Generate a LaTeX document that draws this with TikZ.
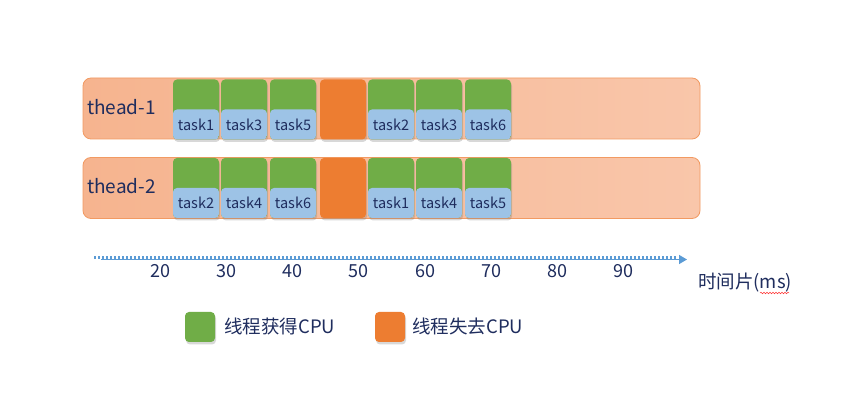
\documentclass[tikz,border=0pt]{standalone}
\usepackage{fontspec}
\setmainfont{Noto Sans CJK SC}
\usetikzlibrary{shadows,arrows.meta,decorations.pathmorphing}
\definecolor{peachL}{HTML}{F6B48F}
\definecolor{peachR}{HTML}{F9C6AA}
\definecolor{barline}{HTML}{F29A62}
\definecolor{tgreen}{HTML}{70AD47}
\definecolor{tblue}{HTML}{9DC3E6}
\definecolor{torange}{HTML}{ED7D31}
\definecolor{ink}{HTML}{1F2D5E}
\definecolor{axisc}{HTML}{5B9BD5}
\begin{document}
\begin{tikzpicture}[x=1pt,y=-1pt,
  bar/.style={draw=barline, line width=0.8pt, rounded corners=8pt, left color=peachL, right color=peachR,
    minimum width=617pt, minimum height=61pt, inner sep=0pt},
  shad/.style={drop shadow={opacity=0.3, shadow xshift=1pt, shadow yshift=-2.5pt}},
  gblock/.style={shad, rounded corners=4pt, fill=tgreen, minimum width=46pt, minimum height=60pt, inner sep=0pt,
    path picture={\fill[tblue] (path picture bounding box.west) rectangle (path picture bounding box.south east);}},
  oblock/.style={shad, rounded corners=4pt, fill=torange, minimum width=46pt, minimum height=60pt, inner sep=0pt},
  tasktxt/.style={text=ink, font=\fontsize{14.5}{16}\selectfont, inner sep=0pt},
  thtxt/.style={text=ink, font=\fontsize{19}{21}\selectfont, inner sep=0pt, anchor=west},
  numtxt/.style={text=ink, font=\fontsize{18}{20}\selectfont, inner sep=0pt},
  legtxt/.style={text=ink, font=\fontsize{18.5}{20}\selectfont, inner sep=0pt, anchor=west},
  legg/.style={shad, rounded corners=4pt, fill=tgreen, minimum width=30pt, minimum height=30pt, inner sep=0pt},
  lego/.style={shad, rounded corners=4pt, fill=torange, minimum width=30pt, minimum height=30pt, inner sep=0pt},
]
\useasboundingbox (0,0) rectangle (865,411);
\fill[white] (0,0) rectangle (865,411);

% thread bars
\node[bar] (bar1) at (391.5,108.5) {};
\node[bar] (bar2) at (391.5,188) {};
\node[thtxt] (th1) at (87,107) {thead-1};
\node[thtxt] (th2) at (87,186) {thead-2};

% row 1
\foreach \x/\t [count=\i] in {196/task1,244/task3,293/task5,391/task2,439/task3,488/task6} {
  \node[gblock] (a\i) at (\x,109.5) {};
  \node[tasktxt] (at\i) at (\x,124.5) {\t};
}
\node[oblock] (ao) at (343,109.5) {};

% row 2
\foreach \x/\t [count=\i] in {196/task2,244/task4,293/task6,391/task1,439/task4,488/task5} {
  \node[gblock] (b\i) at (\x,188) {};
  \node[tasktxt] (bt\i) at (\x,203) {\t};
}
\node[oblock] (bo) at (343,188) {};

% time axis
\coordinate (ax0) at (101,259.5);
\coordinate (ax1) at (687,259.5);
\coordinate (dt0) at (94,257.5);
\coordinate (dt1) at (676,257.5);
\draw[axisc, line width=1.4pt, -{Triangle[length=8pt,width=9pt]}] (ax0) -- (ax1);
\draw[axisc, line width=3pt, dash pattern=on 2.4pt off 1.6pt] (dt0) -- (dt1);

\foreach \x/\n in {160/20,226/30,292/40,358/50,425/60,491/70,557/80,623/90} {
  \node[numtxt] (n\n) at (\x,271) {\n};
}
\node[legtxt] (tl) at (698,283) {时间片(ms)};
\coordinate (sq0) at (760,293);
\coordinate (sq1) at (789,293);
\draw[red!80, line width=0.5pt, decorate, decoration={snake, amplitude=0.8pt, segment length=3pt}] (sq0) -- (sq1);

% legend
\node[legg] (lg) at (200,327) {};
\node[legtxt] (lgt) at (224,326) {线程获得CPU};
\node[lego] (lo) at (390,327) {};
\node[legtxt] (lot) at (412,326) {线程失去CPU};
\end{tikzpicture}
\end{document}
